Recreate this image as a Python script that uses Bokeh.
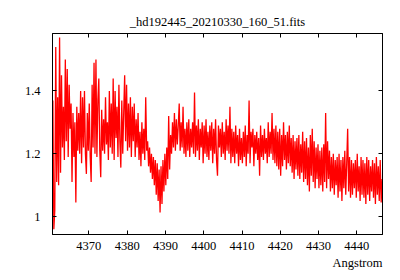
from bokeh.plotting import figure
from bokeh.models import LinearAxis, FixedTicker, CustomJSTickFormatter, Title, Range1d
from bokeh.embed import file_html
from bokeh.resources import INLINE

TITLE = "_hd192445_20210330_160_51.fits"
X_LABEL = "Angstrom"
WL_START = 4360.6
WL_STEP = 0.25

flux_4360 = [
    1.37, 0.96, 1.02, 1.54, 1.11, 1.38, 1.10, 1.57, 1.14, 1.45, 1.22, 1.35,
    1.18, 1.50, 1.24, 1.47, 1.19, 1.42, 1.28, 1.36, 1.11, 1.33, 1.19, 1.30,
    1.045, 1.35, 1.21, 1.33, 1.20, 1.40, 1.17, 1.38, 1.22, 1.40, 1.20, 1.136,
    1.33, 1.21, 1.36, 1.19, 1.11, 1.42, 1.22, 1.49, 1.20, 1.50, 1.19, 1.37,
    1.44, 1.21, 1.125, 1.34, 1.21, 1.31, 1.20, 1.38, 1.23, 1.30, 1.18, 1.40,
    1.22, 1.36, 1.20, 1.44, 1.18, 1.40, 1.25, 1.35, 1.19, 1.42, 1.24, 1.156,
    1.37, 1.20, 1.33, 1.45, 1.24, 1.42, 1.21, 1.36,
]
flux_4380 = [
    1.22, 1.38, 1.19, 1.35, 1.24, 1.36, 1.19, 1.31, 1.22, 1.33, 1.18, 1.27,
    1.16, 1.30, 1.20, 1.28, 1.18, 1.38, 1.21, 1.24, 1.16, 1.22, 1.14, 1.20,
    1.12, 1.19, 1.10, 1.18, 1.07, 1.17, 1.05, 1.15, 1.013, 1.16, 1.04, 1.18,
    1.08, 1.20, 1.10, 1.22, 1.12, 1.32, 1.15, 1.26, 1.20, 1.30, 1.22, 1.33,
    1.21, 1.31, 1.23, 1.29, 1.36, 1.21, 1.30, 1.22, 1.35, 1.20, 1.28, 1.19,
    1.30, 1.21, 1.31, 1.19, 1.28, 1.22, 1.30, 1.20, 1.395, 1.19, 1.29, 1.21,
    1.31, 1.18, 1.28, 1.22, 1.30, 1.17, 1.29, 1.20,
]
flux_4400 = [
    1.31, 1.19, 1.27, 1.18, 1.29, 1.21, 1.30, 1.17, 1.28, 1.20, 1.31, 1.18,
    1.13, 1.29, 1.22, 1.28, 1.19, 1.30, 1.20, 1.27, 1.18, 1.31, 1.21, 1.29,
    1.20, 1.35, 1.17, 1.28, 1.19, 1.27, 1.17, 1.29, 1.20, 1.26, 1.16, 1.28,
    1.18, 1.25, 1.17, 1.27, 1.19, 1.29, 1.16, 1.26, 1.20, 1.37, 1.17, 1.27,
    1.22, 1.28, 1.16, 1.26, 1.20, 1.27, 1.18, 1.25, 1.13, 1.29, 1.19, 1.26,
    1.18, 1.28, 1.20, 1.25, 1.17, 1.30, 1.19, 1.27, 1.20, 1.33, 1.18, 1.28,
    1.17, 1.29, 1.16, 1.27, 1.15, 1.28, 1.13, 1.26,
]
flux_4420 = [
    1.16, 1.30, 1.18, 1.26, 1.15, 1.27, 1.17, 1.29, 1.16, 1.25, 1.14, 1.26,
    1.12, 1.24, 1.15, 1.25, 1.13, 1.26, 1.12, 1.23, 1.14, 1.27, 1.11, 1.24,
    1.12, 1.25, 1.10, 1.22, 1.08, 1.26, 1.13, 1.28, 1.11, 1.24, 1.09, 1.22,
    1.12, 1.23, 1.09, 1.21, 1.10, 1.22, 1.08, 1.23, 1.11, 1.33, 1.09, 1.24,
    1.12, 1.21, 1.08, 1.19, 1.09, 1.20, 1.07, 1.18, 1.10, 1.19, 1.06, 1.20,
    1.08, 1.18, 1.05, 1.19, 1.09, 1.21, 1.07, 1.17, 1.28, 1.08, 1.19, 1.06,
    1.18, 1.07, 1.17, 1.09, 1.18, 1.06, 1.20, 1.08,
]
flux_4440 = [
    1.16, 1.05, 1.19, 1.07, 1.18, 1.06, 1.17, 1.04, 1.19, 1.07, 1.18, 1.05,
    1.16, 1.08, 1.18, 1.06, 1.17, 1.04, 1.19, 1.07, 1.16, 1.05, 1.18, 1.045,
    1.12,
]

X_TICKS = [4370, 4380, 4390, 4400, 4410, 4420, 4430, 4440]
Y_TICKS = [1.0, 1.2, 1.4]

flux = flux_4360 + flux_4380 + flux_4400 + flux_4420 + flux_4440
wl = [WL_START + WL_STEP * i for i in range(len(flux))]

FONT = "Liberation Serif"

p = figure(width=400, height=280, output_backend="svg", toolbar_location=None,
           x_range=Range1d(4360.5, 4446.7), y_range=Range1d(0.943, 1.583),
           min_border_left=52, min_border_right=18, min_border_top=33,
           min_border_bottom=46)
p.title.text = TITLE
p.title.align = "center"
p.title.text_font = FONT
p.title.text_font_style = "normal"
p.title.text_font_size = "12.5px"
p.title.text_color = "black"
p.title.standoff = 10

p.line(wl, flux, line_color="#ff0000", line_width=1.3)

p.grid.visible = False
p.outline_line_color = "black"
p.outline_line_width = 1
p.background_fill_color = "white"
p.border_fill_color = "white"

fmt = CustomJSTickFormatter(code="return String(Math.round(tick*10)/10);")

def style(ax, labels=True):
    ax.major_tick_in = 4
    ax.major_tick_out = 0
    ax.minor_tick_line_color = None
    ax.axis_line_color = "black"
    ax.major_tick_line_color = "black"
    ax.major_label_text_font = FONT
    if labels:
        ax.major_label_text_font_size = "12.5px"
        ax.major_label_text_color = "black"
    else:
        ax.major_label_text_font_size = "1px"
        ax.major_label_text_color = None
        ax.major_label_standoff = 0

p.xaxis.ticker = FixedTicker(ticks=X_TICKS)
p.yaxis.ticker = FixedTicker(ticks=Y_TICKS)
p.yaxis.formatter = fmt
for ax in p.xaxis + p.yaxis:
    style(ax)
p.xaxis.major_label_standoff = 7
p.yaxis.major_label_standoff = 12

top = LinearAxis(ticker=FixedTicker(ticks=X_TICKS))
style(top, labels=False)
right = LinearAxis(ticker=FixedTicker(ticks=Y_TICKS), formatter=fmt)
style(right, labels=False)
p.add_layout(top, "above")
p.add_layout(right, "right")

xl = Title(text=X_LABEL, align="right", text_font=FONT, text_font_style="normal",
           text_font_size="12.5px", text_color="black", standoff=2)
p.add_layout(xl, "below")

open("out.html", "w").write(file_html(p, INLINE))
